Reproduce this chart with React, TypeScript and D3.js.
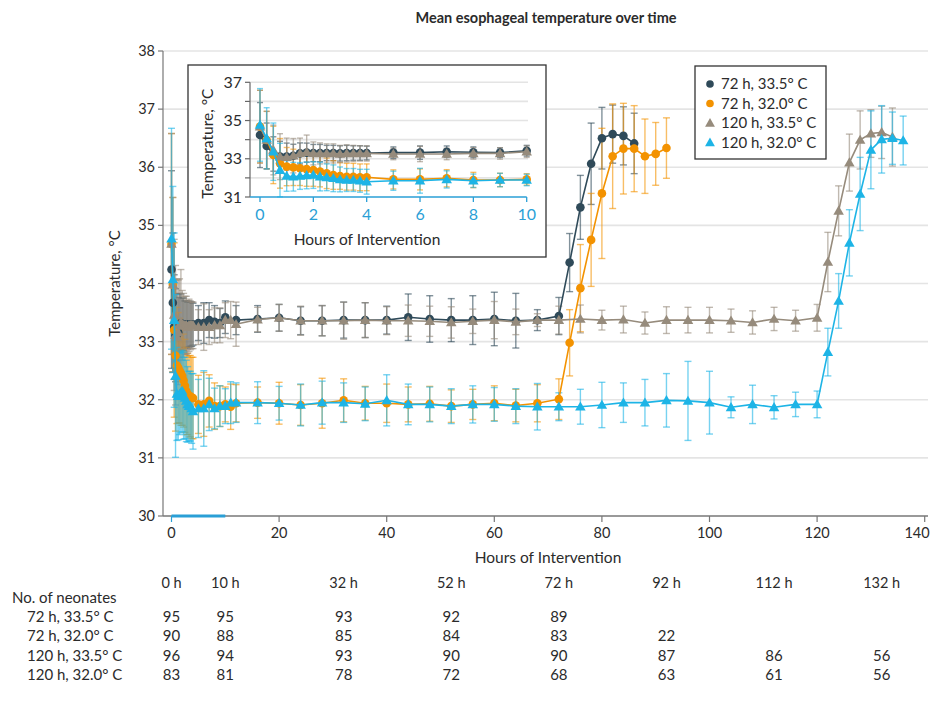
import React from "react";
import * as d3 from "d3";

// ---------- DATA ----------
const earlyHours = [0, 0.25, 0.5, 0.75, 1, 1.25, 1.5, 1.75, 2, 2.25, 2.5, 2.75, 3, 3.25, 3.5, 3.75, 4, 5, 6, 7, 8, 9, 10];

// 72 h, 33.5 °C
const hoursA = [...earlyHours, 12, 16, 20, 24, 28, 32, 36, 40, 44, 48, 52, 56, 60, 64, 68, 72, 74, 76, 78, 80, 82, 84, 86];
const meanA = [34.24, 33.67, 33.25, 33.11, 33.12, 33.16, 33.28, 33.32, 33.3, 33.3, 33.3, 33.3, 33.28, 33.3, 33.3, 33.3, 33.3, 33.32, 33.32, 33.37, 33.34, 33.32, 33.42,
  33.37, 33.39, 33.41, 33.36, 33.36, 33.37, 33.37, 33.37, 33.42, 33.39, 33.37, 33.37, 33.39, 33.36, 33.37, 33.44, 34.36, 35.31, 36.06, 36.5, 36.57, 36.54, 36.41];
const sdA = [1.7, 1.2, 0.9, 0.8, 0.7, 0.6, 0.55, 0.5, 0.45, 0.45, 0.4, 0.4, 0.4, 0.4, 0.38, 0.38, 0.36, 0.3, 0.35, 0.3, 0.28, 0.25, 0.28,
  0.25, 0.23, 0.23, 0.24, 0.26, 0.31, 0.3, 0.24, 0.4, 0.4, 0.37, 0.42, 0.46, 0.47, 0.18, 0.32, 0.5, 0.55, 0.7, 0.53, 0.5, 0.5, 0.52];

// 72 h, 32.0 °C
const hoursB = [...earlyHours, 11, 12, 16, 20, 24, 28, 32, 36, 40, 44, 48, 52, 56, 60, 64, 68, 72, 74, 76, 78, 80, 82, 84, 86, 88, 90, 92];
const meanB = [34.68, 33.98, 33.2, 32.76, 32.59, 32.55, 32.5, 32.46, 32.41, 32.33, 32.24, 32.15, 32.1, 32.06, 32.06, 32.03, 32.03, 31.92, 31.92, 31.98, 31.89, 31.89, 31.92,
  31.88, 31.94, 31.95, 31.94, 31.91, 31.94, 31.99, 31.94, 31.94, 31.92, 31.93, 31.89, 31.92, 31.94, 31.9, 31.94, 32.01, 32.98, 33.92, 34.75, 35.55, 36.19, 36.32, 36.32, 36.19, 36.23, 36.33];
const sdB = [1.9, 1.5, 1.5, 1.3, 1.0, 0.95, 0.9, 0.9, 0.85, 0.8, 0.8, 0.75, 0.7, 0.7, 0.7, 0.7, 0.7, 0.5, 0.55, 0.45, 0.4, 0.35, 0.3,
  0.39, 0.32, 0.27, 0.36, 0.35, 0.43, 0.37, 0.29, 0.33, 0.3, 0.3, 0.28, 0.26, 0.3, 0.28, 0.32, 0.35, 0.57, 0.75, 0.8, 1.12, 0.9, 0.78, 0.74, 0.64, 0.54, 0.52];

// 120 h, 33.5 °C
const hoursC = [...earlyHours, 11, 12, 16, 20, 24, 28, 32, 36, 40, 44, 48, 52, 56, 60, 64, 68, 72, 76, 80, 84, 88, 92, 96, 100, 104, 108, 112, 116, 120, 122, 124, 126, 128, 130, 132, 134];
const meanC = [34.68, 33.98, 33.46, 33.11, 33.08, 33.16, 33.28, 33.34, 33.28, 33.28, 33.28, 33.28, 33.25, 33.28, 33.28, 33.28, 33.28, 33.25, 33.25, 33.25, 33.28, 33.28, 33.37,
  33.37, 33.3, 33.38, 33.41, 33.36, 33.36, 33.36, 33.37, 33.36, 33.36, 33.35, 33.33, 33.35, 33.37, 33.34, 33.37, 33.37, 33.39, 33.37, 33.38, 33.32, 33.37, 33.37,
  33.37, 33.36, 33.33, 33.39, 33.36, 33.41, 34.37, 35.25, 36.08, 36.47, 36.58, 36.6, 36.52];
const sdC = [1.9, 1.5, 1.3, 1.2, 1.0, 0.9, 0.8, 0.9, 0.6, 0.55, 0.5, 0.5, 0.45, 0.45, 0.42, 0.4, 0.4, 0.3, 0.4, 0.3, 0.3, 0.3, 0.3,
  0.32, 0.38, 0.21, 0.23, 0.25, 0.26, 0.32, 0.3, 0.24, 0.27, 0.26, 0.27, 0.21, 0.32, 0.22, 0.11, 0.24, 0.24, 0.17, 0.23, 0.19, 0.23, 0.22,
  0.22, 0.2, 0.2, 0.2, 0.18, 0.23, 0.51, 0.43, 0.49, 0.5, 0.41, 0.45, 0.5];

// 120 h, 32.0 °C
const hoursD = [...earlyHours, 11, 12, 16, 20, 24, 28, 32, 36, 40, 44, 48, 52, 56, 60, 64, 68, 72, 76, 80, 84, 88, 92, 96, 100, 104, 108, 112, 116, 120, 122, 124, 126, 128, 130, 132, 134, 136];
const meanD = [34.77, 34.07, 33.37, 32.41, 32.1, 32.06, 32.1, 32.13, 32.15, 32.07, 32.03, 31.98, 31.92, 31.89, 31.89, 31.85, 31.8, 31.85, 31.85, 31.92, 31.85, 31.89, 31.89,
  31.95, 31.95, 31.95, 31.94, 31.91, 31.95, 31.95, 31.93, 31.99, 31.92, 31.92, 31.89, 31.92, 31.92, 31.89, 31.88, 31.88, 31.88, 31.91, 31.95, 31.95, 31.99, 31.98,
  31.95, 31.87, 31.92, 31.87, 31.92, 31.92, 32.82, 33.7, 34.7, 35.54, 36.3, 36.48, 36.5, 36.46];
const sdD = [1.9, 1.6, 1.5, 1.4, 0.8, 0.75, 0.7, 0.7, 0.7, 0.75, 0.7, 0.7, 0.65, 0.6, 0.6, 0.6, 0.65, 0.5, 0.65, 0.45, 0.35, 0.35, 0.3,
  0.36, 0.34, 0.36, 0.29, 0.36, 0.37, 0.34, 0.29, 0.44, 0.35, 0.3, 0.3, 0.32, 0.29, 0.3, 0.4, 0.24, 0.3, 0.39, 0.34, 0.4, 0.46, 0.68,
  0.54, 0.18, 0.33, 0.2, 0.21, 0.23, 0.41, 0.47, 0.57, 0.63, 0.67, 0.58, 0.45, 0.42];

const seriesNames = ["72 h, 33.5° C", "72 h, 32.0° C", "120 h, 33.5° C", "120 h, 32.0° C"];
const seriesColors = ["#2f4a59", "#f39200", "#968b7c", "#1db4e6"];
const seriesShapes = ["circle", "circle", "triangle", "triangle"];

const mainTicksY = [30, 31, 32, 33, 34, 35, 36, 37, 38];
const mainTicksX = [0, 20, 40, 60, 80, 100, 120, 140];
const insetTicksY = [31, 32, 33, 34, 35, 36, 37];
const insetLabelsY = [31, 33, 35, 37];
const insetTicksX = [0, 2, 4, 6, 8, 10];

const tableHours = [0, 10, 32, 52, 72, 92, 112, 132];
const countsA = [95, 95, 93, 92, 89, null, null, null];
const countsB = [90, 88, 85, 84, 83, 22, null, null];
const countsC = [96, 94, 93, 90, 90, 87, 86, 56];
const countsD = [83, 81, 78, 72, 68, 63, 61, 56];

// ---------- CHART ----------
const FONT = "Lato, 'Liberation Sans', sans-serif";
const TEXT = "#2b2b2b";

type Pt = { h: number; m: number; s: number };

const series = [
  { hours: hoursA, mean: meanA, sd: sdA, counts: countsA },
  { hours: hoursB, mean: meanB, sd: sdB, counts: countsB },
  { hours: hoursC, mean: meanC, sd: sdC, counts: countsC },
  { hours: hoursD, mean: meanD, sd: sdD, counts: countsD },
].map((s, i) => ({
  name: seriesNames[i],
  color: seriesColors[i],
  shape: seriesShapes[i],
  counts: s.counts,
  pts: s.hours.map((h, j) => ({ h, m: s.mean[j], s: s.sd[j] })) as Pt[],
}));

const triPath = d3.symbol().type(d3.symbolTriangle).size(48)()!;
const triPathSmall = d3.symbol().type(d3.symbolTriangle).size(42)()!;

function Marker({ shape, x, y, color, r }: { shape: string; x: number; y: number; color: string; r: number }) {
  if (shape === "circle") return <circle cx={x} cy={y} r={r} fill={color} />;
  return <path d={r > 4 ? triPath : triPathSmall} transform={`translate(${x},${y + 0.8})`} fill={color} />;
}

function Plot({ x, y, pts, cap }: { x: d3.ScaleLinear<number, number>; y: d3.ScaleLinear<number, number>; pts: any; cap: number }) {
  return null;
}

export default function App() {
  const W = 932, H = 702;
  const x = d3.scaleLinear().domain([0, 140]).range([171.5, 924.7]);
  const y = d3.scaleLinear().domain([30, 38]).range([516, 51]);
  const axisX0 = 163, axisX1 = 928;

  const xi = d3.scaleLinear().domain([0, 10]).range([260, 526.7]);
  const yi = d3.scaleLinear().domain([31, 37]).range([197, 82.3]);

  const line = (sx: any, sy: any) => d3.line<Pt>().x((d) => sx(d.h)).y((d) => sy(d.m));

  const renderSeries = (sx: any, sy: any, filter: (p: Pt) => boolean, cap: number, r: number) => {
    const lg = line(sx, sy);
    return (
      <g>
        {series.map((s, i) => (
          <g key={"e" + i} stroke={s.color} strokeWidth={1.4} strokeOpacity={0.6}>
            {s.pts.filter(filter).map((p, j) => (
              <g key={j}>
                <line x1={sx(p.h)} x2={sx(p.h)} y1={sy(p.m - p.s)} y2={sy(p.m + p.s)} />
                <line x1={sx(p.h) - cap} x2={sx(p.h) + cap} y1={sy(p.m - p.s)} y2={sy(p.m - p.s)} />
                <line x1={sx(p.h) - cap} x2={sx(p.h) + cap} y1={sy(p.m + p.s)} y2={sy(p.m + p.s)} />
              </g>
            ))}
          </g>
        ))}
        {series.map((s, i) => (
          <g key={"l" + i}>
            <path d={lg(s.pts.filter(filter)) || ""} fill="none" stroke={s.color} strokeWidth={1.6} />
            {s.pts.filter(filter).map((p, j) => (
              <Marker key={j} shape={s.shape} x={sx(p.h)} y={sy(p.m)} color={s.color} r={r} />
            ))}
          </g>
        ))}
      </g>
    );
  };

  const insetBox = { x: 188, y: 65, w: 358, h: 192 };
  const legend = { x: 695, y: 66, w: 131, h: 93 };
  const legendRows = [84, 103.5, 123, 142.5];
  const tableRowsY = [617, 636, 656, 675];

  return (
    <svg width={W} height={H} style={{ position: "absolute", left: 0, top: 0, display: "block" }} fontFamily={FONT}>
      <rect width={W} height={H} fill="#fff" />
      <text x={546} y={23} textAnchor="middle" fontSize={14.5} fontWeight={700} fill={TEXT}>
        Mean esophageal temperature over time
      </text>

      {/* gridlines */}
      {mainTicksY.filter((t) => t > 30).map((t) => (
        <line key={t} x1={axisX0} x2={axisX1} y1={y(t)} y2={y(t)} stroke="#e4e4e4" strokeWidth={1.6} />
      ))}
      {/* y axis */}
      <line x1={axisX0} x2={axisX0} y1={y(38)} y2={y(30)} stroke="#777" strokeWidth={1.2} />
      {mainTicksY.map((t) => (
        <g key={t}>
          <line x1={axisX0 - 5} x2={axisX0} y1={y(t)} y2={y(t)} stroke="#777" strokeWidth={1.2} />
          <text x={axisX0 - 8} y={y(t)} dy="0.35em" textAnchor="end" fontSize={14.5} fill={TEXT}>{t}</text>
        </g>
      ))}
      <text transform={`translate(120,${(y(38) + y(30)) / 2}) rotate(-90)`} textAnchor="middle" fontSize={15} fill={TEXT}>
        Temperature, °C
      </text>

      {/* x axis */}
      <line x1={axisX0} x2={axisX1} y1={y(30)} y2={y(30)} stroke="#777" strokeWidth={1.4} />
      {mainTicksX.map((t) => (
        <g key={t}>
          <line x1={x(t)} x2={x(t)} y1={y(30)} y2={y(30) + 6} stroke={t === 0 ? "#2a9fd6" : "#777"} strokeWidth={1.2} />
          <text x={t === 140 ? Math.min(x(t), 917) : x(t)} y={y(30) + 22} textAnchor="middle" fontSize={14.5} fill={TEXT}>{t}</text>
        </g>
      ))}
      <line x1={x(0)} x2={x(10)} y1={y(30)} y2={y(30)} stroke="#2a9fd6" strokeWidth={3} />
      <text x={548} y={563} textAnchor="middle" fontSize={15.5} fill={TEXT}>Hours of Intervention</text>

      {/* main data */}
      {renderSeries(x, y, () => true, 3.5, 4.3)}

      {/* inset */}
      <rect x={insetBox.x} y={insetBox.y} width={insetBox.w} height={insetBox.h} fill="#fff" stroke="#333" strokeWidth={1.3} />
      {insetTicksY.map((t) => (
        <g key={t}>
          {t > 31 && <line x1={250} x2={528} y1={yi(t)} y2={yi(t)} stroke="#e4e4e4" strokeWidth={1.6} />}
          <line x1={245} x2={250} y1={yi(t)} y2={yi(t)} stroke="#666" strokeWidth={1.2} />
        </g>
      ))}
      <line x1={250} x2={250} y1={yi(37)} y2={yi(31)} stroke="#666" strokeWidth={1.2} />
      {insetLabelsY.map((t) => (
        <text key={t} x={242} y={yi(t)} dy="0.35em" textAnchor="end" fontSize={16} fill={TEXT}>{t}</text>
      ))}
      <line x1={250} x2={xi(10)} y1={yi(31)} y2={yi(31)} stroke="#2a9fd6" strokeWidth={1.6} />
      {insetTicksX.map((t) => (
        <g key={t}>
          <line x1={xi(t)} x2={xi(t)} y1={yi(31)} y2={yi(31) + 5} stroke="#2a9fd6" strokeWidth={1.3} />
          <text x={xi(t)} y={yi(31) + 23} textAnchor="middle" fontSize={16} fill="#2a9fd6">{t}</text>
        </g>
      ))}
      <text x={367} y={245} textAnchor="middle" fontSize={15.5} fill={TEXT}>Hours of Intervention</text>
      <text transform={`translate(213,${(yi(37) + yi(31)) / 2 + 4}) rotate(-90)`} textAnchor="middle" fontSize={15.5} fill={TEXT}>
        Temperature, °C
      </text>
      {renderSeries(xi, yi, (p) => p.h <= 10, 3, 4.3)}

      {/* legend */}
      <rect x={legend.x} y={legend.y} width={legend.w} height={legend.h} fill="#fff" stroke="#333" strokeWidth={1.3} />
      {series.map((s, i) => (
        <g key={i}>
          <Marker shape={s.shape} x={legend.x + 15} y={legendRows[i]} color={s.color} r={3.8} />
          <text x={legend.x + 26} y={legendRows[i]} dy="0.35em" fontSize={15} fill={TEXT}>{s.name}</text>
        </g>
      ))}

      {/* table */}
      {tableHours.map((h) => (
        <text key={h} x={x(h)} y={588} textAnchor="middle" fontSize={14.5} fill={TEXT}>{h} h</text>
      ))}
      <text x={12} y={603} fontSize={15} fill={TEXT}>No. of neonates</text>
      {series.map((s, i) => (
        <g key={i}>
          <text x={27} y={tableRowsY[i] + 5} fontSize={15} fill={TEXT}>{s.name}</text>
          {s.counts.map((c, j) =>
            c == null ? null : (
              <text key={j} x={x(tableHours[j])} y={tableRowsY[i] + 5} textAnchor="middle" fontSize={15} fill={TEXT}>{c}</text>
            )
          )}
        </g>
      ))}
    </svg>
  );
}
